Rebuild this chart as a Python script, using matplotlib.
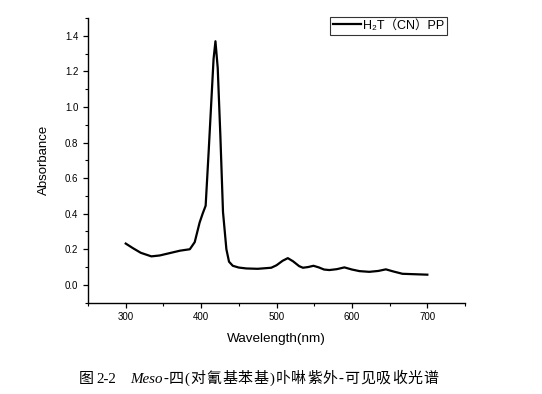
import matplotlib
import matplotlib.pyplot as plt
from matplotlib.ticker import MultipleLocator, FormatStrFormatter

matplotlib.use("Agg")

plt.rcParams["font.family"] = ["Liberation Sans", "Noto Sans CJK SC"]

# spectrum
wavelength = [300, 310, 320, 334, 345, 360, 372, 380, 385, 391.5, 398, 402, 406,
              410, 413.5, 416.5, 419, 422, 425.5, 429, 433.5, 437, 442, 450,
              460, 475, 493, 500, 508, 515, 522, 530, 535, 542, 549, 556, 563,
              570, 580, 590, 600, 610, 623, 635, 645, 655, 667, 680, 700]
absorbance = [0.232, 0.205, 0.180, 0.160, 0.165, 0.180, 0.192, 0.197, 0.200, 0.24,
              0.35, 0.40, 0.445, 0.75, 1.03, 1.27, 1.37, 1.22, 0.84, 0.41, 0.20,
              0.13, 0.107, 0.097, 0.092, 0.090, 0.096, 0.110, 0.135, 0.150, 0.132,
              0.105, 0.096, 0.100, 0.107, 0.098, 0.086, 0.083, 0.088, 0.098, 0.086,
              0.077, 0.073, 0.078, 0.087, 0.075, 0.062, 0.060, 0.057]

legend_label = "H₂T（CN）PP"
caption_head = "图"
caption_num = "2-2"
caption_italic = "Meso"
caption_rest = "-四(对氰基苯基)卟啉紫外-可见吸收光谱"

W, H = 542, 394
fig = plt.figure(figsize=(W / 100, H / 100), dpi=100)
ax = fig.add_axes([0.1624, 0.232, 0.6956, 0.722])

ax.plot(wavelength, absorbance, color="black", linewidth=1.6, label=legend_label)

ax.set_xlim(250, 750)
ax.set_ylim(-0.1, 1.5)
ax.xaxis.set_major_locator(MultipleLocator(100))
ax.xaxis.set_minor_locator(MultipleLocator(50))
ax.yaxis.set_minor_locator(MultipleLocator(0.1))
ax.set_yticks([0.0, 0.2, 0.4, 0.6, 0.8, 1.0, 1.2, 1.4])
ax.yaxis.set_major_formatter(FormatStrFormatter("%.1f"))

for side in ("top", "right"):
    ax.spines[side].set_visible(False)
for side in ("left", "bottom"):
    ax.spines[side].set_linewidth(1.0)
ax.tick_params(which="major", direction="out", length=3.5, width=0.9, labelsize=7)
ax.tick_params(which="minor", direction="out", length=2, width=0.8)

ax.set_xlabel("Wavelength(nm)", fontsize=9.7, labelpad=8)
ax.set_ylabel("Absorbance", fontsize=9.5, labelpad=11)

leg = ax.legend(loc="upper right", bbox_to_anchor=(447 / W, 1 - 16.5 / H),
                bbox_transform=fig.transFigure, fontsize=9,
                frameon=True, fancybox=False, edgecolor="black",
                handlelength=2.2, borderpad=0.25, handletextpad=0.15,
                borderaxespad=0)
leg.get_frame().set_linewidth(0.8)

# caption: CJK set at fixed advances like a SimSun/Times figure caption
serif_cjk = ["Liberation Serif", "Noto Sans CJK SC"]
base_y = 1 - 383 / H
fig.text(79 / W, base_y, caption_head, fontsize=10.8, family=serif_cjk)
fig.text(96 / W, base_y, caption_num, fontsize=10.8, family="Liberation Serif")
renderer = fig.canvas.get_renderer()
t = fig.text(130 / W, base_y, caption_italic, fontsize=10.8, style="italic",
             family="Liberation Serif")
x_px = t.get_window_extent(renderer).x1 + 0.5
for ch in caption_rest:
    fig.text(x_px / W, base_y, ch, fontsize=10.8, family=serif_cjk)
    x_px += 15.75 if ord(ch) > 255 else 6.0

fig.savefig("out.png", dpi=100)
